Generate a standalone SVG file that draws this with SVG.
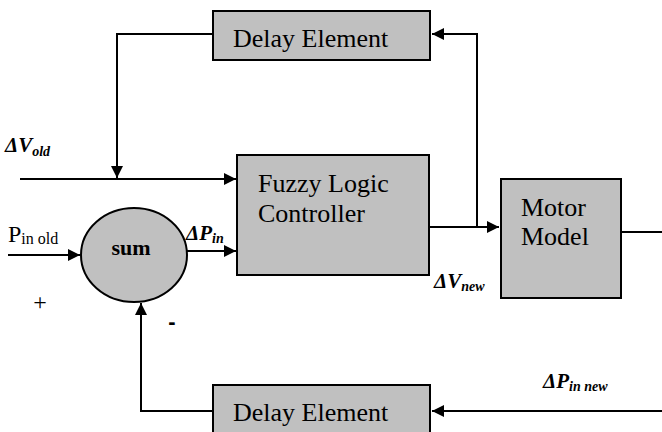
<svg xmlns="http://www.w3.org/2000/svg" width="662" height="432" viewBox="0 0 662 432">
<style>
.box{fill:#c0c0c0;stroke:#000;stroke-width:2}
.c{fill:none;stroke:#000;stroke-width:2}
</style>
<defs>
<marker id="ah" viewBox="0 0 10 10" refX="10" refY="5" markerWidth="12" markerHeight="12" markerUnits="userSpaceOnUse" orient="auto">
<path d="M0,0 L10,5 L0,10 Z" fill="#000"/>
</marker>
</defs>
<rect width="662" height="432" fill="#fff"/>
<g id="connectors">
<path class="c" d="M212,34 H117 V178" marker-end="url(#ah)"/>
<path class="c" d="M20,179 H236" marker-end="url(#ah)"/>
<path class="c" d="M8,255 H80" marker-end="url(#ah)"/>
<path class="c" d="M187,251 H236" marker-end="url(#ah)"/>
<path class="c" d="M429,227 H499" marker-end="url(#ah)"/>
<path class="c" d="M477,227 V34 H432" marker-end="url(#ah)"/>
<path class="c" d="M621,232 H662"/>
<path class="c" d="M662,411 H432" marker-end="url(#ah)"/>
<path class="c" d="M213,411 H141 V303" marker-end="url(#ah)"/>
</g>
<g font-family="Liberation Serif, Times New Roman, serif" fill="#000">
<g id="delay-top">
<rect class="box" x="213" y="11" width="217" height="49"/>
<text x="233" y="47" font-size="26">Delay Element</text>
</g>
<g id="fuzzy">
<rect class="box" x="237" y="155" width="192" height="120"/>
<text x="258" y="192" font-size="26">Fuzzy Logic</text>
<text x="258" y="222" font-size="26">Controller</text>
</g>
<g id="motor">
<rect class="box" x="501" y="179" width="120" height="119"/>
<text x="521" y="216" font-size="26">Motor</text>
<text x="521" y="245" font-size="26">Model</text>
</g>
<g id="sum">
<ellipse cx="134" cy="255" rx="53" ry="47" fill="#c0c0c0" stroke="#000" stroke-width="2"/>
<text x="131" y="255" text-anchor="middle" font-size="22" font-weight="bold">sum</text>
</g>
<g id="delay-bottom">
<rect class="box" x="213" y="385" width="217" height="60"/>
<text x="233" y="421" font-size="26">Delay Element</text>
</g>
<g id="labels">
<text x="5" y="152" font-size="21" font-weight="bold" font-style="italic">ΔV<tspan font-size="14" dy="4">old</tspan></text>
<text x="8" y="242" font-size="24">P<tspan dy="2" font-size="16">in old</tspan></text>
<text x="186" y="240" font-size="21" font-weight="bold" font-style="italic">ΔP<tspan font-size="14" dy="3">in</tspan></text>
<text x="434" y="288" font-size="21" font-weight="bold" font-style="italic">ΔV<tspan font-size="14" dy="3">new</tspan></text>
<text x="543" y="388" font-size="21" font-weight="bold" font-style="italic">ΔP<tspan font-size="14" dy="3">in new</tspan></text>
<text x="40" y="310" text-anchor="middle" font-size="24">+</text>
<text x="172" y="329" text-anchor="middle" font-size="22" font-weight="bold" font-family="Liberation Sans, Arial, sans-serif">-</text>
</g>
</g>
</svg>
